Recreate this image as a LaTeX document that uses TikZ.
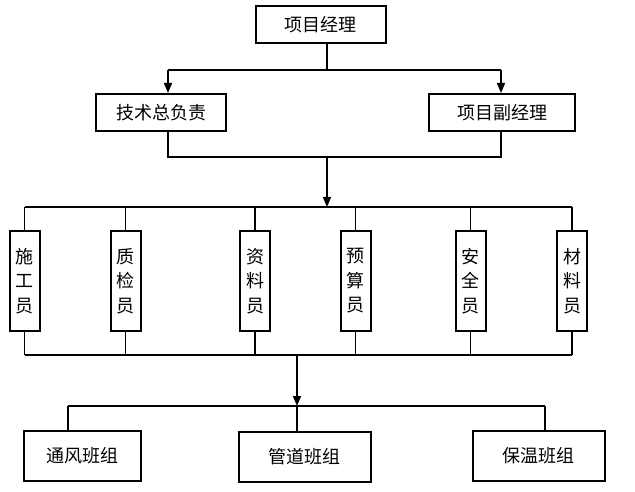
\documentclass[tikz,border=0pt]{standalone}
\usepackage{fontspec}
\newfontfamily\cjk{Noto Sans CJK SC}
\usetikzlibrary{arrows.meta}
\tikzset{
  box/.style={draw, line width=2pt, inner sep=0pt, align=center,
    font=\cjk\fontsize{18}{24.5}\selectfont},
  hbox/.style={box, minimum height=37pt},
  vbox/.style={box, minimum width=30pt, minimum height=100pt},
  gbox/.style={box, minimum height=50pt},
  conn/.style={line width=1.6pt},
  arr/.style={conn, -{Triangle[length=10pt,width=8pt]}}
}
\begin{document}
\begin{tikzpicture}[x=1pt,y=-1pt]
\useasboundingbox (0,0) rectangle (635,492);
% top levels
\node[hbox, minimum width=130pt] (pm) at (320.5,25) {项目经理};
\node[hbox, minimum width=130pt] (tech) at (161,112.5) {技术总负责};
\node[hbox, minimum width=146pt] (vice) at (502,112.5) {项目副经理};
% staff
\node[vbox] (s1) at (24.5,281) {施\\工\\员};
\node[vbox] (s2) at (125.5,281) {质\\检\\员};
\node[vbox] (s3) at (255,281) {资\\料\\员};
\node[vbox] (s4) at (355.5,281) {预\\算\\员};
\node[vbox] (s5) at (470.5,281) {安\\全\\员};
\node[vbox] (s6) at (572,281) {材\\料\\员};
% teams
\node[gbox, minimum width=117pt] (t1) at (82.5,455.5) {通风班组};
\node[gbox, minimum width=132pt] (t2) at (304.5,457) {管道班组};
\node[gbox, minimum width=132pt] (t3) at (538.5,455.5) {保温班组};
% junction coordinates
\coordinate (a0) at (327,70);
\coordinate (a1) at (168,70);
\coordinate (a2) at (501,70);
\coordinate (b0) at (327,157);
\coordinate (b1) at (168,157);
\coordinate (b2) at (501,157);
\coordinate (c0) at (327,207);
\coordinate (d0) at (297,355);
\coordinate (e0) at (297,406);
\coordinate (e1) at (68,406);
\coordinate (e2) at (545,406);
% connectors level 1
\draw[conn] (pm.south -| a0) -- (a0);
\draw[conn] (a1) -- (a2);
\draw[arr] (a1) -- (tech.north -| a1);
\draw[arr] (a2) -- (vice.north -| a2);
% level 2
\draw[conn] (tech.south -| a1) -- (b1) -- (b2) -- (vice.south -| a2);
\draw[arr] (b0) -- (c0);
\draw[conn] (s1.north |- c0) -- (s6.north |- c0);
\foreach \s in {s1,s2,s3,s4,s5,s6}{
  \draw[conn] (\s.north |- c0) -- (\s.north);
  \draw[conn] (\s.south) -- (\s.south |- d0);
}
\draw[conn] (s1.south |- d0) -- (s6.south |- d0);
% level 3
\draw[arr] (d0) -- (e0);
\draw[conn] (e1) -- (e2);
\draw[conn] (e1) -- (t1.north -| e1);
\draw[conn] (e0) -- (t2.north -| e0);
\draw[conn] (e2) -- (t3.north -| e2);
\end{tikzpicture}
\end{document}
